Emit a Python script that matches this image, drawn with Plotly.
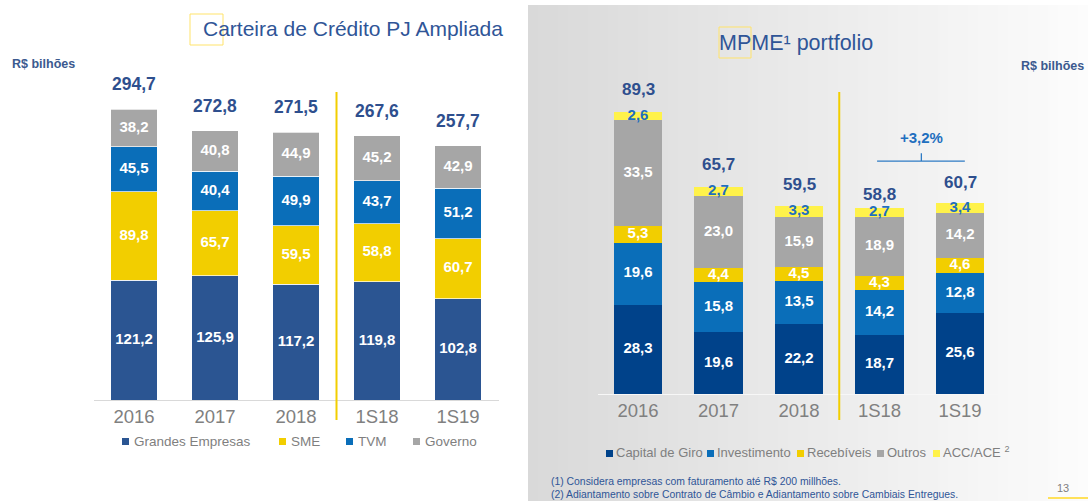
import plotly.graph_objects as go

W, H = 1088, 501

categories = ["2016", "2017", "2018", "1S18", "1S19"]

# Left chart: Carteira de Crédito PJ Ampliada (R$ bilhões)
grandes_empresas = [121.2, 125.9, 117.2, 119.8, 102.8]
sme = [89.8, 65.7, 59.5, 58.8, 60.7]
tvm = [45.5, 40.4, 49.9, 43.7, 51.2]
governo = [38.2, 40.8, 44.9, 45.2, 42.9]
totals_pj = [294.7, 272.8, 271.5, 267.6, 257.7]

# Right chart: MPME portfolio (R$ bilhões)
capital_de_giro = [28.3, 19.6, 22.2, 18.7, 25.6]
investimento = [19.6, 15.8, 13.5, 14.2, 12.8]
recebiveis = [5.3, 4.4, 4.5, 4.3, 4.6]
outros = [33.5, 23.0, 15.9, 18.9, 14.2]
acc_ace = [2.6, 2.7, 3.3, 2.7, 3.4]
totals_mpme = [89.3, 65.7, 59.5, 58.8, 60.7]
growth_label = "+3,2%"

REG = "Liberation Sans, Arial, sans-serif"

C_NAVY = "#2B5592"
C_YEL = "#F2CE00"
C_BLUE = "#0A6EB9"
C_GRAY = "#A6A6A6"
C_DNAVY = "#00428A"
C_LYEL = "#FFF24A"
C_TITLE = "#2F5597"


def fmt(v):
    return f"{v:.1f}".replace(".", ",")


def px(x):
    return x / W


def py(y):
    return 1 - y / H


fig = go.Figure()

# ---------- left chart bars ----------
left_series = [
    ("Grandes Empresas", grandes_empresas, C_NAVY),
    ("SME", sme, C_YEL),
    ("TVM", tvm, C_BLUE),
    ("Governo", governo, C_GRAY),
]
base = [0.0] * 5
for name, vals, col in left_series:
    fig.add_trace(go.Bar(
        x=categories, y=vals, name=name,
        marker=dict(color=col, line=dict(color="rgba(255,255,255,0.7)", width=1)),
        width=0.58, xaxis="x", yaxis="y", showlegend=False, hoverinfo="skip"))
    mids = [b + v / 2 for b, v in zip(base, vals)]
    fig.add_trace(go.Scatter(
        x=categories, y=mids, mode="text", text=[fmt(v) for v in vals],
        textfont=dict(family=REG, size=15, color="white", weight="bold"),
        xaxis="x", yaxis="y", showlegend=False, hoverinfo="skip"))
    base = [b + v for b, v in zip(base, vals)]

# ---------- right chart bars ----------
right_series = [
    ("Capital de Giro", capital_de_giro, C_DNAVY, "white"),
    ("Investimento", investimento, C_BLUE, "white"),
    ("Recebíveis", recebiveis, C_YEL, "white"),
    ("Outros", outros, C_GRAY, "white"),
    ("ACC/ACE", acc_ace, C_LYEL, "#1F6FBF"),
]
base = [0.0] * 5
for name, vals, col, tcol in right_series:
    fig.add_trace(go.Bar(
        x=categories, y=vals, name=name, marker=dict(color=col, line=dict(width=0)),
        width=0.6, xaxis="x2", yaxis="y2", showlegend=False, hoverinfo="skip"))
    mids = [b + v / 2 for b, v in zip(base, vals)]
    fig.add_trace(go.Scatter(
        x=categories, y=mids, mode="text", text=[fmt(v) for v in vals],
        textfont=dict(family=REG, size=15, color=tcol, weight="bold"),
        xaxis="x2", yaxis="y2", showlegend=False, hoverinfo="skip"))
    base = [b + v for b, v in zip(base, vals)]

annotations = []
shapes = []

# total labels (x given as category index)
for i, t in enumerate(totals_pj):
    annotations.append(dict(x=i, y=t, xref="x", yref="y", text=fmt(t), showarrow=False,
                            xanchor="center", yanchor="middle", yshift=25,
                            font=dict(family=REG, size=17.5, color="#2E4F8E", weight="bold")))
r_shift = [22, 22, 21, 14, 20]
for i, (t, s) in enumerate(zip(totals_mpme, r_shift)):
    annotations.append(dict(x=i, y=t, xref="x2", yref="y2", text=fmt(t), showarrow=False,
                            xanchor="center", yanchor="middle", yshift=s,
                            font=dict(family=REG, size=17, color="#2E4F8E", weight="bold")))

# growth bracket
annotations.append(dict(x=3.52, y=81.2, xref="x2", yref="y2", text=growth_label, showarrow=False,
                        xanchor="center", yanchor="middle",
                        font=dict(family=REG, size=15, color="#1F6FBF", weight="bold")))
shapes.append(dict(type="line", xref="x2", yref="y2", x0=2.97, x1=4.06, y0=73.7, y1=73.7,
                   line=dict(color="#2E7BC4", width=1.3)))
shapes.append(dict(type="line", xref="x2", yref="y2", x0=3.52, x1=3.52, y0=73.7, y1=76.2,
                   line=dict(color="#2E7BC4", width=1.3)))

# background gradient for right panel
N = 56
x_start = 528
step = (W - x_start) / N
for i in range(N):
    f = i / (N - 1)
    g = int(round(217 + (252 - 217) * f))
    shapes.append(dict(type="rect", xref="paper", yref="paper", layer="below",
                       x0=px(x_start + i * step), x1=min(1, px(x_start + (i + 1) * step + 0.5)),
                       y0=0, y1=py(5), line=dict(width=0), fillcolor=f"rgb({g},{g},{g})"))

# separators
for xr in ["x", "x2"]:
    shapes.append(dict(type="line", xref=xr, yref="paper", x0=2.5, x1=2.5, y0=py(420), y1=py(92),
                       line=dict(color=C_YEL, width=2)))

# title boxes
shapes.append(dict(type="rect", xref="paper", yref="paper", x0=px(190), x1=px(223), y0=py(45), y1=py(14),
                   line=dict(color="#FFE36B", width=1)))
shapes.append(dict(type="rect", xref="paper", yref="paper", x0=px(719), x1=px(751), y0=py(58), y1=py(27),
                   line=dict(color="#FFE36B", width=1)))

# page number underline
shapes.append(dict(type="line", xref="paper", yref="paper", x0=px(1048), x1=1, y0=py(498), y1=py(498),
                   line=dict(color="#FFE15A", width=2)))


def note(x, y, text, size, color, xanchor="center", weight="normal"):
    annotations.append(dict(x=px(x), y=py(y), xref="paper", yref="paper", text=text, showarrow=False,
                            xanchor=xanchor, yanchor="middle",
                            font=dict(family=REG, size=size, color=color, weight=weight)))


# titles
note(353, 29, "Carteira de Crédito PJ Ampliada", 21, C_TITLE)
note(796, 43, "MPME¹ portfolio", 21.5, C_TITLE)
note(10, 64, "R$ bilhões", 12.5, "#3B5A8F", "left", "bold")
note(1086, 66, "R$ bilhões", 12.5, "#3B5A8F", "right", "bold")

# legends (manual)
left_leg = [("Grandes Empresas", C_NAVY, 122), ("SME", C_YEL, 279), ("TVM", C_BLUE, 346), ("Governo", C_GRAY, 413)]
for name, col, x0 in left_leg:
    shapes.append(dict(type="rect", xref="paper", yref="paper", x0=px(x0), x1=px(x0 + 7), y0=py(445), y1=py(438),
                       line=dict(width=0), fillcolor=col))
    note(x0 + 10, 441, name, 13.5, "#7F7F7F", "left")
right_leg = [("Capital de Giro", C_DNAVY, 606), ("Investimento", C_BLUE, 707), ("Recebíveis", C_YEL, 797),
             ("Outros", C_GRAY, 877), ("ACC/ACE <sup>2</sup>", C_LYEL, 933)]
for name, col, x0 in right_leg:
    shapes.append(dict(type="rect", xref="paper", yref="paper", x0=px(x0), x1=px(x0 + 7), y0=py(457), y1=py(450),
                       line=dict(width=0), fillcolor=col))
    note(x0 + 8, 452, name, 13, "#7F7F7F", "left")

# footnotes
note(549, 481, "(1) Considera empresas com faturamento até R$ 200 millhões.", 10.4, C_TITLE, "left")
note(549, 494, "(2) Adiantamento sobre Contrato de Câmbio e Adiantamento sobre Cambiais Entregues.", 10.4,
     C_TITLE, "left")
note(1063, 488, "13", 11, "#808080")

fig.update_layout(
    width=W, height=H, margin=dict(l=0, r=0, t=0, b=0),
    paper_bgcolor="white", plot_bgcolor="rgba(0,0,0,0)",
    barmode="stack", showlegend=False,
    xaxis=dict(domain=[px(93.5), px(498.5)], type="category", range=[-0.5, 4.5], anchor="y",
               showline=True, linecolor="#D9D9D9", linewidth=1, ticks="", showgrid=False, zeroline=False,
               tickfont=dict(family=REG, size=18.5, color="#808080")),
    yaxis=dict(domain=[py(400), py(92)], range=[0, 308 / 0.987], visible=False, anchor="x"),
    xaxis2=dict(domain=[px(597.75), px(1000.25)], type="category", range=[-0.5, 4.5], anchor="y2",
                showline=True, linecolor="#F7F7F7", linewidth=1, ticks="", showgrid=False, zeroline=False,
                tickfont=dict(family=REG, size=18.5, color="#808080")),
    yaxis2=dict(domain=[py(394), py(92)], range=[0, 302 / 3.16], visible=False, anchor="x2"),
    annotations=annotations, shapes=shapes,
)

fig.write_html(
    "out.html",
    config={"displayModeBar": False, "staticPlot": True},
    post_script="document.body.style.margin='0px';document.body.style.overflow='hidden';",
)
